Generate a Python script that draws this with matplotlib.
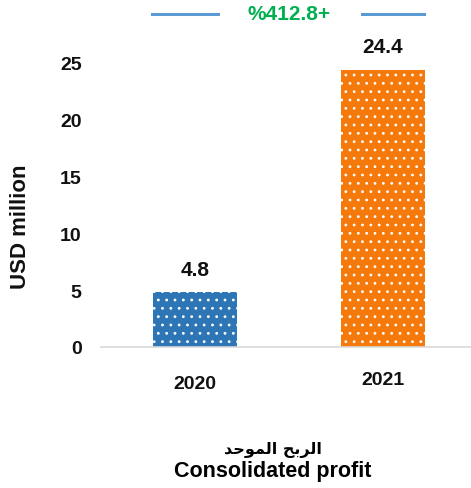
import numpy as np
import matplotlib
matplotlib.use("Agg")
import matplotlib.pyplot as plt

# data
years = ["2020", "2021"]
profit = [4.8, 24.4]
bar_colors = ["#2E75B6", "#F67A0B"]
growth_label = "%412.8+"
yticks = [0, 5, 10, 15, 20, 25]
# Arabic written in presentation forms, visual order (matplotlib has no shaping)
title_ar = "\uFEAA\uFEA3\uFEEE\uFEE4\uFEDF\uFE8D \uFEA2\uFE91\uFEAE\uFEDF\uFE8D"
title_en = "Consolidated profit"

plt.rcParams['font.family'] = ['Liberation Sans', 'DejaVu Sans']
plt.rcParams['hatch.linewidth'] = 0.8

fig = plt.figure(figsize=(4.71, 4.89), dpi=100)
ax = fig.add_axes([101 / 471, 1 - 348 / 489, 376 / 471, 290 / 489])

x = np.arange(len(years))
bars = ax.bar(x, profit, width=0.45, color=bar_colors, edgecolor="white",
              linewidth=0, hatch="..")
for b, v in zip(bars, profit):
    ax.annotate(f"{v}", (b.get_x() + b.get_width() / 2, v), xytext=(0, 10),
                textcoords="offset points", ha="center", va="bottom",
                fontsize=15, fontweight="bold", color="#111111")

ax.set_xlim(-0.5, 1.5)
ax.set_ylim(0, 25.5)
ax.set_yticks(yticks)
ax.set_xticks(x)
ax.set_xticklabels([])
ax.tick_params(axis="both", length=0, labelsize=14, colors="#111111")
ax.tick_params(axis="y", pad=14)
for lab in ax.get_yticklabels():
    lab.set_fontweight("bold")
# year labels (the reference has them at slightly different heights)
for xi, yr, off in zip(x, years, [20, 17]):
    ax.annotate(yr, (xi, 0), xycoords=("data", "axes fraction"),
                xytext=(0, -off), textcoords="offset points", ha="center",
                va="top", fontsize=14, fontweight="bold", color="#111111")
for s in ["top", "right", "left"]:
    ax.spines[s].set_visible(False)
ax.spines["bottom"].set_color("#D9D9D9")
ax.spines["bottom"].set_linewidth(1.2)
ax.set_ylabel("USD million", fontsize=16, fontweight="bold", color="#111111")
ax.yaxis.set_label_coords(-0.186, 0.418)

# growth annotation at top
fig.text(289 / 471, 1 - 15 / 489, growth_label, ha="center", va="center",
         fontsize=15, fontweight="bold", color="#00B050")
fig.add_artist(plt.Line2D([152 / 471, 218 / 471], [1 - 15 / 489] * 2,
                          color="#5B9BD5", lw=2.2))
fig.add_artist(plt.Line2D([362 / 471, 424 / 471], [1 - 15 / 489] * 2,
                          color="#5B9BD5", lw=2.2))

fig.text(273 / 471, 1 - 450 / 489, title_ar, ha="center", va="center",
         fontsize=11.5, fontweight="bold", family=['DejaVu Sans'], color="#000000")
fig.text(273 / 471, 1 - 472 / 489, title_en, ha="center", va="center",
         fontsize=15.5, fontweight="bold", color="#000000")

fig.savefig("out.png", dpi=100)
